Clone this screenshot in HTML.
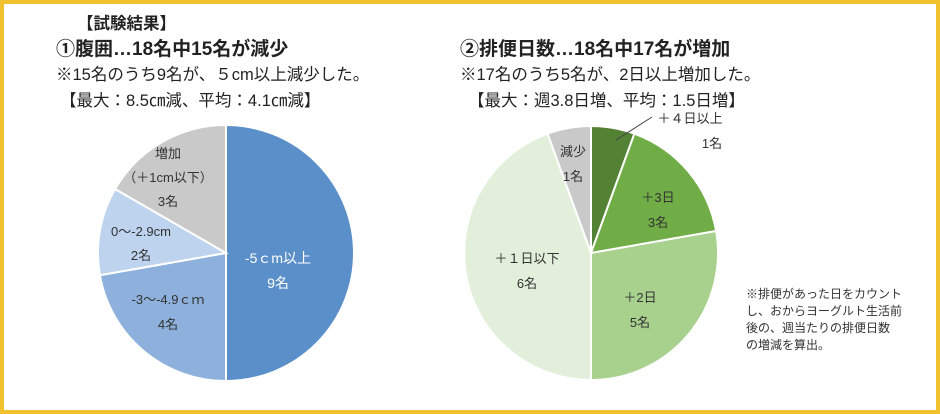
<!DOCTYPE html>
<html><head><meta charset="utf-8"><style>
body{margin:0;width:940px;height:414px;background:#fff;overflow:hidden}
.f{position:absolute;left:0;top:0;width:932px;height:406px;border:4px solid #F2C12E}
svg{position:absolute;left:0;top:0}
text{font-family:"Liberation Sans","Noto Sans CJK JP",sans-serif}
</style></head><body>
<div class="f"></div>
<svg width="940" height="414">
<g font-size="16.5" fill="#222">
<text x="77" y="29" font-weight="bold">【試験結果】</text>
<text x="56" y="55" font-weight="bold" font-size="19">①腹囲…18名中15名が減少</text>
<text x="56" y="80">※15名のうち9名が、５cm以上減少した。</text>
<text x="60" y="106">【最大：8.5㎝減、平均：4.1㎝減】</text>
<text x="460" y="55" font-weight="bold" font-size="19">②排便日数…18名中17名が増加</text>
<text x="460" y="80">※17名のうち5名が、2日以上増加した。</text>
<text x="468" y="106">【最大：週3.8日増、平均：1.5日増】</text>
</g>
<g stroke="#fff" stroke-width="2">
<path d="M226,253 L226,125 A128,128 0 0 1 226,381Z" fill="#5B8FC9"/>
<path d="M226,253 L226,381 A128,128 0 0 1 99.9,275.2Z" fill="#8DB0DC"/>
<path d="M226,253 L99.9,275.2 A128,128 0 0 1 115.1,189Z" fill="#BDD3EE"/>
<path d="M226,253 L115.1,189 A128,128 0 0 1 226,125Z" fill="#C9C9C9"/>
<path d="M591,253 L591,126 A127,127 0 0 1 634.4,133.7Z" fill="#548235"/>
<path d="M591,253 L634.4,133.7 A127,127 0 0 1 716.1,231Z" fill="#70AD47"/>
<path d="M591,253 L716.1,231 A127,127 0 0 1 591,380Z" fill="#A9D18E"/>
<path d="M591,253 L591,380 A127,127 0 0 1 547.6,133.7Z" fill="#E2EFDA"/>
<path d="M591,253 L547.6,133.7 A127,127 0 0 1 591,126Z" fill="#C9C9C9"/>
</g>
<line x1="616" y1="140" x2="652" y2="117" stroke="#444" stroke-width="1"/>
<g font-size="13" fill="#333" text-anchor="middle">
<text x="168" y="158">増加</text><text x="168" y="182">（＋1cm以下）</text><text x="168" y="206">3名</text>
<text x="141" y="236">0～-2.9cm</text><text x="141" y="260">2名</text>
<text x="168" y="304">-3～-4.9ｃｍ</text><text x="168" y="329">4名</text>
<text x="278" y="263" fill="#fff" font-size="14">-5ｃm以上</text><text x="278" y="288" fill="#fff" font-size="14">9名</text>
<text x="573" y="156">減少</text><text x="573" y="181">1名</text>
<text x="690" y="123">＋４日以上</text><text x="712" y="148">1名</text>
<text x="658" y="202">＋3日</text><text x="658" y="227">3名</text>
<text x="640" y="302">＋2日</text><text x="640" y="327">5名</text>
<text x="527" y="263">＋１日以下</text><text x="527" y="288">6名</text>
</g>
<g font-size="12" fill="#333">
<text x="746" y="298">※排便があった日をカウント</text>
<text x="746" y="315">し、おからヨーグルト生活前</text>
<text x="746" y="332">後の、週当たりの排便日数</text>
<text x="746" y="349">の増減を算出。</text>
</g>
</svg>
</body></html>
